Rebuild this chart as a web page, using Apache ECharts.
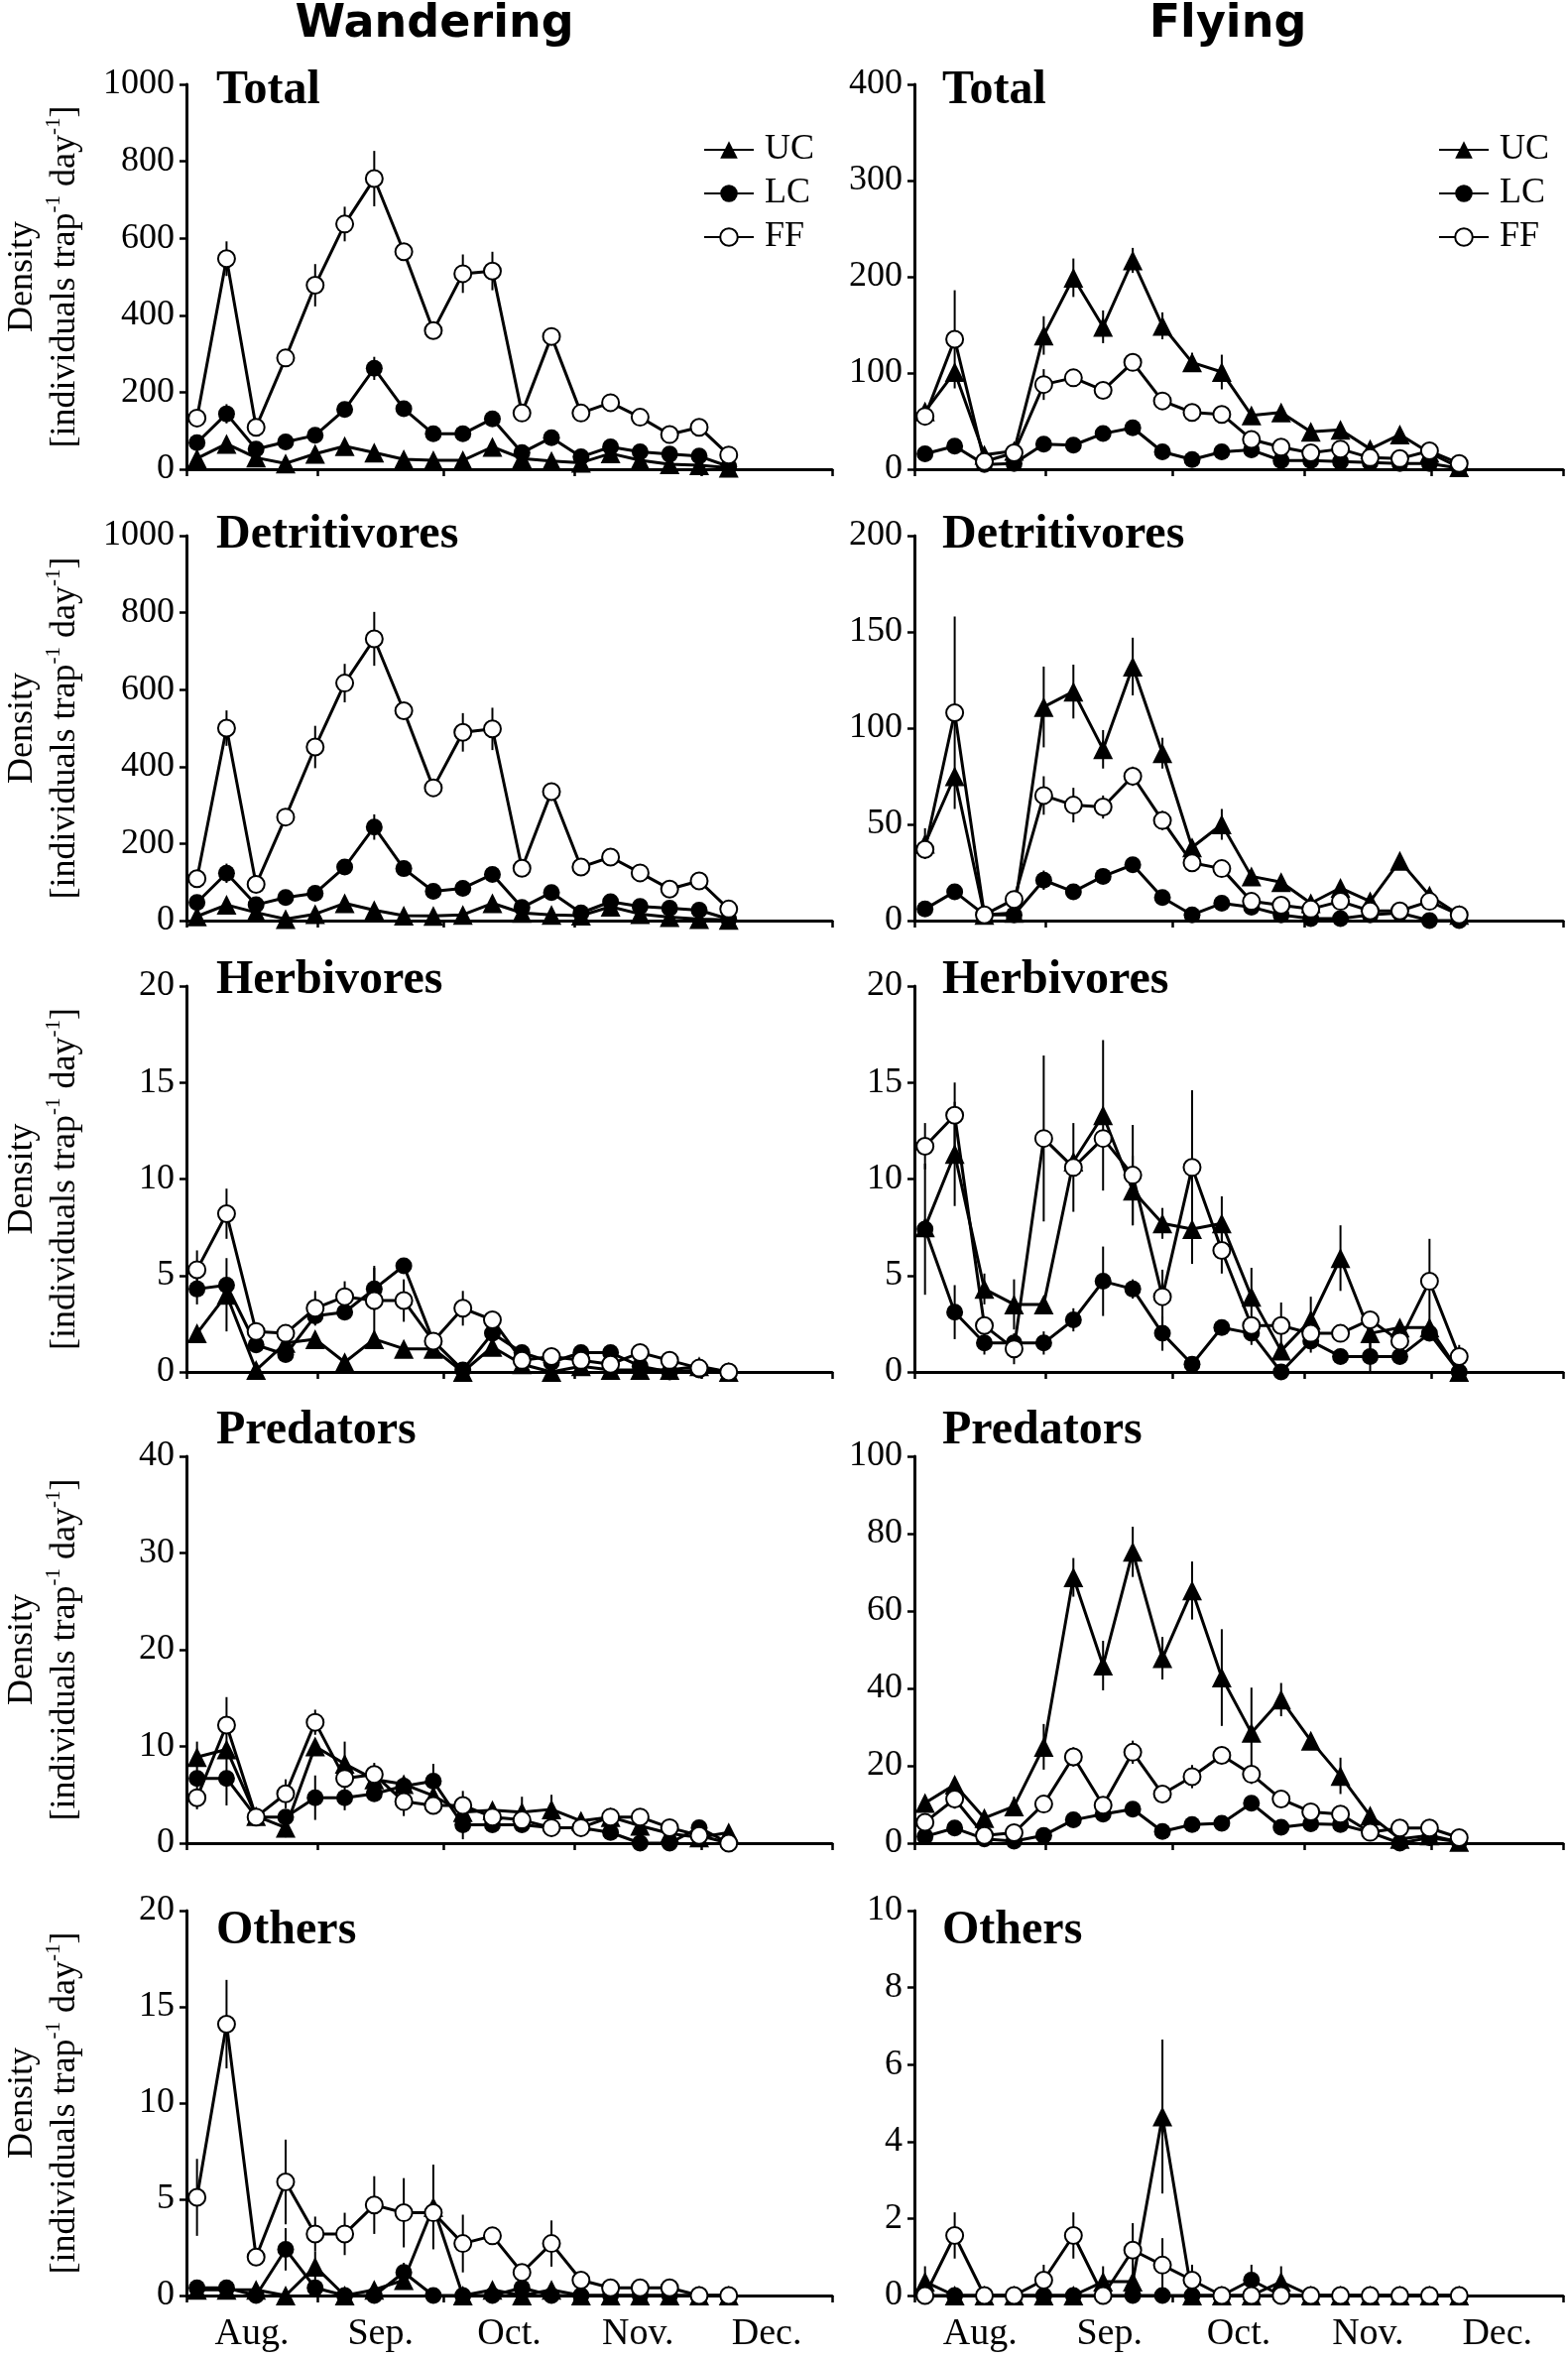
<!DOCTYPE html>
<html>
<head>
<meta charset="utf-8">
<script src="https://cdn.jsdelivr.net/npm/echarts@6.0.0/dist/echarts.min.js"></script>
<style>
html, body { margin: 0; padding: 0; background: #fff; }
#chart { width: 1581px; height: 2378px; }
</style>
</head>
<body>
<div id="chart"></div>
<script>
// sampling dates, in days after 1 August (weekly traps)
var sampleDays = [2.5, 9.5, 16.5, 23.5, 30.5, 37.5, 44.5, 51.5, 58.5, 65.5, 72.5, 79.5, 86.5, 93.5, 100.5, 107.5, 114.5, 121.5, 128.5];
var monthStarts = [0, 31, 61, 92, 122, 153];
var monthMids = [15.5, 46, 76.5, 107, 137.5];
var monthLabels = ['Aug.', 'Sep.', 'Oct.', 'Nov.', 'Dec.'];

var panelNames = ['Total', 'Detritivores', 'Herbivores', 'Predators', 'Others'];
var wanderMax = [1000, 1000, 20, 40, 20];
var wanderStep = [200, 200, 5, 10, 5];
var flyMax = [400, 200, 20, 100, 10];
var flyStep = [100, 50, 5, 20, 2];

// ---- Wandering ----
var wTotalUC = [28, 66, 30, 15, 40, 60, 43, 26, 23, 23, 58, 28, 21, 17, 41, 23, 13, 10, 4];
var wTotalLC = [69, 144, 52, 71, 88, 155, 262, 157, 92, 92, 131, 43, 82, 32, 58, 45, 39, 34, 7];
var wTotalFF = [133, 547, 109, 289, 478, 637, 755, 565, 360, 508, 515, 146, 345, 146, 173, 135, 90, 109, 37];
var wTotalUCse = [0, 15, 0, 0, 0, 0, 0, 0, 0, 0, 10, 0, 0, 0, 8, 0, 0, 0, 0];
var wTotalLCse = [0, 25, 0, 0, 0, 12, 30, 0, 0, 0, 10, 0, 0, 0, 8, 0, 0, 0, 0];
var wTotalFFse = [0, 45, 0, 0, 55, 45, 72, 10, 0, 50, 50, 0, 0, 12, 15, 0, 0, 0, 0];

var wDetUC = [11, 41, 21, 4, 17, 45, 27, 13, 12, 15, 45, 20, 15, 13, 36, 17, 9, 4, 2];
var wDetLC = [47, 123, 41, 60, 71, 139, 243, 135, 76, 84, 120, 34, 73, 20, 49, 37, 32, 27, 4];
var wDetFF = [109, 500, 94, 269, 451, 617, 732, 545, 345, 489, 498, 136, 335, 139, 165, 124, 82, 103, 30];
var wDetUCse = [0, 0, 0, 0, 0, 0, 0, 0, 0, 0, 0, 0, 0, 0, 0, 0, 0, 0, 0];
var wDetLCse = [0, 25, 0, 0, 0, 0, 33, 0, 0, 0, 0, 0, 0, 0, 0, 0, 0, 0, 0];
var wDetFFse = [0, 46, 0, 0, 55, 50, 70, 0, 0, 50, 55, 0, 0, 12, 12, 0, 0, 0, 0];

var wHerbUC = [2.0, 4.0, 0.1, 1.5, 1.7, 0.5, 1.7, 1.2, 1.2, 0, 1.3, 0.4, 0, 0.3, 0.1, 0.1, 0.1, 0.3, 0];
var wHerbLC = [4.3, 4.5, 1.4, 0.9, 2.9, 3.1, 4.3, 5.5, 1.6, 0.1, 2.0, 1.0, 0.5, 1.0, 1.0, 0.3, 0, 0.1, 0];
var wHerbFF = [5.3, 8.2, 2.1, 2.0, 3.3, 3.9, 3.7, 3.7, 1.6, 3.3, 2.7, 0.6, 0.8, 0.6, 0.4, 1.0, 0.6, 0.2, 0];
var wHerbUCse = [0.3, 1.9, 0, 0.2, 0, 0, 0, 0, 0, 0, 0, 0, 0, 0, 0, 0, 0, 0, 0];
var wHerbLCse = [0.8, 0, 0, 0, 0, 0, 1.1, 0.2, 0, 0, 0, 0, 0, 0.3, 0, 0, 0, 0, 0];
var wHerbFFse = [1.0, 1.3, 0, 0, 0.9, 0.8, 1.8, 1.1, 0, 0.9, 0.2, 0, 0, 0, 0, 0, 0, 0, 0];

var wPredUC = [8.9, 9.7, 2.8, 1.6, 10.0, 8.2, 6.6, 6.1, 4.9, 3.2, 3.4, 3.2, 3.5, 2.3, 2.7, 1.8, 1.0, 0.6, 1.1];
var wPredLC = [6.7, 6.7, 2.7, 2.7, 4.7, 4.7, 5.1, 5.9, 6.4, 1.9, 1.9, 1.9, 1.6, 1.6, 1.1, 0, 0, 1.6, 0];
var wPredFF = [4.7, 12.2, 2.7, 5.1, 12.5, 6.7, 7.1, 4.3, 3.9, 3.9, 2.7, 2.4, 1.6, 1.6, 2.7, 2.7, 1.6, 0.8, 0];
var wPredUCse = [1.6, 0, 0, 1.0, 0, 2.3, 0, 0, 0, 0, 0, 1.6, 1.5, 0.8, 0, 0, 0, 0.4, 0];
var wPredLCse = [0, 2.8, 0, 0, 2.3, 1.3, 0, 0, 1.8, 1.5, 0, 0, 0, 0, 0, 0, 0, 0, 0];
var wPredFFse = [1.2, 2.9, 0, 1.5, 1.3, 0, 1.2, 1.5, 0, 1.5, 1.1, 0, 0, 0, 0.5, 0.5, 0.6, 0, 0];

var wOthUC = [0.3, 0.3, 0.3, 0, 1.5, 0, 0.3, 0.8, 4.6, 0, 0.3, 0, 0.3, 0, 0, 0, 0, 0, 0];
var wOthLC = [0.4, 0.4, 0, 2.4, 0.4, 0, 0, 1.2, 0, 0, 0, 0.4, 0, 0, 0, 0, 0, 0, 0];
var wOthFF = [5.1, 14.1, 2.0, 5.9, 3.2, 3.2, 4.7, 4.3, 4.3, 2.7, 3.1, 1.2, 2.7, 0.8, 0.4, 0.4, 0.4, 0, 0];
var wOthUCse = [0.2, 0.2, 0.3, 0, 0.8, 0, 0.2, 0.3, 2.2, 0, 0.2, 0, 0.2, 0, 0, 0, 0, 0, 0];
var wOthLCse = [0, 0, 0, 1.1, 0, 0, 0, 0.5, 0, 0, 0, 0.2, 0, 0, 0, 0, 0, 0, 0];
var wOthFFse = [2.0, 2.3, 0.3, 2.2, 0.9, 1.1, 1.5, 1.8, 0, 1.5, 0.4, 0.3, 1.2, 0.2, 0.1, 0.1, 0.1, 0, 0];

// ---- Flying ----
var fTotalUC = [60, 101, 15, 19, 139, 199, 148, 217, 149, 111, 101, 56, 59, 39, 41, 21, 36, 17, 2];
var fTotalLC = [16, 24, 5, 6, 26, 25, 37, 43, 18, 10, 18, 20, 9, 9, 8, 7, 6, 6, 1];
var fTotalFF = [55, 135, 8, 17, 88, 95, 82, 111, 71, 59, 57, 31, 23, 17, 21, 12, 11, 19, 6];
var fTotalUCse = [5, 0, 0, 0, 20, 20, 17, 13, 14, 10, 18, 8, 0, 0, 0, 0, 0, 0, 0];
var fTotalLCse = [0, 0, 0, 0, 0, 0, 0, 0, 0, 0, 0, 0, 0, 0, 0, 0, 0, 0, 0];
var fTotalFFse = [0, 51, 0, 0, 16, 5, 5, 0, 0, 6, 0, 0, 0, 0, 0, 0, 0, 0, 0];

var fDetUC = [40, 75, 3, 4, 111, 119, 89, 132, 87, 38, 50, 23, 20, 9, 17, 10, 31, 13, 3];
var fDetLC = [6, 15, 3, 3, 21, 15, 23, 29, 12, 3, 9, 7, 3, 1, 1, 3, 4, 0, 0];
var fDetFF = [37, 108, 3, 11, 65, 60, 59, 75, 52, 30, 27, 10, 8, 6, 10, 5, 5, 10, 3];
var fDetUCse = [8, 0, 0, 0, 21, 14, 10, 15, 8, 0, 8, 0, 0, 0, 0, 0, 0, 0, 0];
var fDetLCse = [0, 0, 0, 0, 5, 4, 0, 0, 0, 0, 0, 0, 0, 0, 0, 0, 0, 0, 0];
var fDetFFse = [3, 50, 0, 0, 10, 9, 6, 5, 5, 4, 0, 0, 0, 0, 0, 0, 0, 0, 0];

var fHerbUC = [7.5, 11.3, 4.3, 3.5, 3.5, 10.9, 13.3, 9.4, 7.7, 7.4, 7.7, 3.9, 1.1, 2.7, 5.9, 2.0, 2.3, 2.3, 0];
var fHerbLC = [7.4, 3.1, 1.5, 1.5, 1.5, 2.7, 4.7, 4.3, 2.0, 0.4, 2.3, 2.0, 0, 1.6, 0.8, 0.8, 0.8, 2.0, 0];
var fHerbFF = [11.7, 13.3, 2.4, 1.2, 12.1, 10.6, 12.1, 10.2, 3.9, 10.6, 6.3, 2.4, 2.4, 2.0, 2.0, 2.7, 1.6, 4.7, 0.8];
var fHerbUCse = [0, 2.7, 0.8, 1.3, 0, 0, 3.9, 1.8, 0.8, 1.8, 1.4, 1.5, 0, 1.2, 1.7, 0.8, 0, 0, 0];
var fHerbLCse = [3.4, 1.4, 0.6, 0, 0.6, 0.6, 1.8, 0.5, 0.9, 0, 0.3, 0.6, 0.4, 0.6, 0.4, 0.8, 0.4, 0, 0];
var fHerbFFse = [1.2, 1.7, 0, 0.8, 4.3, 2.3, 0, 2.6, 1.4, 4.0, 1.2, 0, 1.2, 0, 0, 0, 0, 2.2, 0.6];

var fPredUC = [10.4, 15.1, 6.5, 9.5, 24.9, 68.7, 45.9, 75.3, 47.8, 65.3, 42.8, 28.5, 37.1, 26.5, 17.4, 7.1, 1.1, 2.0, 0.3];
var fPredLC = [1.7, 3.9, 1.1, 0.5, 2.0, 6.0, 7.5, 8.8, 3.0, 4.8, 5.1, 10.3, 4.1, 5.0, 4.8, 2.8, 0, 1.4, 0.3];
var fPredFF = [5.4, 11.4, 2.0, 2.7, 10.1, 22.3, 9.8, 23.5, 12.7, 17.2, 22.7, 17.8, 11.4, 8.1, 7.5, 2.8, 3.9, 3.9, 1.4];
var fPredUCse = [0, 1.5, 1.5, 2.5, 5.9, 5, 6.4, 6.5, 5.5, 7.5, 12.5, 11.7, 4.3, 0, 4.7, 0, 0, 0, 0];
var fPredLCse = [0, 0, 0, 0, 0, 0, 0, 0, 0, 1.5, 1.5, 0, 0, 0, 0, 0, 0, 0, 0];
var fPredFFse = [0, 2.5, 0, 0, 2, 2.5, 0, 3, 1.5, 3, 1.5, 2.5, 0, 1.5, 0, 0, 0, 0, 0];

var fOthUC = [0.36, 0, 0, 0, 0, 0, 0.36, 0.36, 4.65, 0, 0, 0, 0.36, 0, 0, 0, 0, 0, 0];
var fOthLC = [0, 0, 0, 0, 0, 0, 0, 0, 0, 0, 0, 0.4, 0, 0, 0, 0, 0, 0, 0];
var fOthFF = [0, 1.56, 0, 0, 0.4, 1.56, 0, 1.18, 0.79, 0.4, 0, 0, 0, 0, 0, 0, 0, 0, 0];
var fOthUCse = [0.4, 0, 0, 0, 0, 0, 0.4, 0, 2.0, 0, 0, 0, 0.4, 0, 0, 0, 0, 0, 0];
var fOthLCse = [0, 0, 0, 0, 0, 0, 0, 0, 0, 0, 0, 0.4, 0, 0, 0, 0, 0, 0, 0];
var fOthFFse = [0, 0.6, 0, 0, 0.4, 0.6, 0, 0.7, 0.7, 0.4, 0, 0, 0, 0, 0, 0, 0, 0, 0];

var wandering = [
    [wTotalUC, wTotalLC, wTotalFF, wTotalUCse, wTotalLCse, wTotalFFse],
    [wDetUC, wDetLC, wDetFF, wDetUCse, wDetLCse, wDetFFse],
    [wHerbUC, wHerbLC, wHerbFF, wHerbUCse, wHerbLCse, wHerbFFse],
    [wPredUC, wPredLC, wPredFF, wPredUCse, wPredLCse, wPredFFse],
    [wOthUC, wOthLC, wOthFF, wOthUCse, wOthLCse, wOthFFse]
];
var flying = [
    [fTotalUC, fTotalLC, fTotalFF, fTotalUCse, fTotalLCse, fTotalFFse],
    [fDetUC, fDetLC, fDetFF, fDetUCse, fDetLCse, fDetFFse],
    [fHerbUC, fHerbLC, fHerbFF, fHerbUCse, fHerbLCse, fHerbFFse],
    [fPredUC, fPredLC, fPredFF, fPredUCse, fPredLCse, fPredFFse],
    [fOthUC, fOthLC, fOthFF, fOthUCse, fOthLCse, fOthFFse]
];

// layout
var rowTop = [85, 540, 994, 1468, 1926];
var rowBottom = [473, 928, 1383, 1858, 2314];
var colLeft = [185, 922];
var plotWidth = 654;
var titleY = [92, 540, 989, 1443, 1947];
var titleX = [218, 950];

var serif = '"Liberation Serif", "Times New Roman", serif';

var grids = [], xAxes = [], yAxes = [], series = [], graphics = [];

function lineSeries(name, values, gi, kind) {
    return {
        type: 'line',
        name: name,
        xAxisIndex: gi,
        yAxisIndex: gi,
        data: sampleDays.map(function (d, i) { return [d, values[i]]; }),
        showAllSymbol: true,
        symbol: kind === 'tri' ? 'triangle' : 'circle',
        symbolSize: kind === 'tri' ? 20 : 17,
        lineStyle: { color: '#000', width: 3 },
        itemStyle: kind === 'open'
            ? { color: '#fff', borderColor: '#000', borderWidth: 2 }
            : { color: '#000' },
        emphasis: { disabled: true },
        z: 3,
        animation: false
    };
}

function errSeries(values, se, gi) {
    var pts = [];
    for (var i = 0; i < values.length; i++) {
        if (se[i] > 0) pts.push([sampleDays[i], values[i], se[i]]);
    }
    return {
        type: 'custom',
        xAxisIndex: gi,
        yAxisIndex: gi,
        data: pts,
        encode: { x: 0, y: 1 },
        silent: true,
        z: 1,
        animation: false,
        renderItem: function (params, api) {
            var x = api.value(0), m = api.value(1), s = api.value(2);
            var top = api.coord([x, m + s]);
            var bot = api.coord([x, Math.max(0, m - s)]);
            return {
                type: 'line',
                shape: { x1: top[0], y1: top[1], x2: bot[0], y2: bot[1] },
                style: { stroke: '#000', lineWidth: 2 }
            };
        }
    };
}

for (var col = 0; col < 2; col++) {
    var sets = col === 0 ? wandering : flying;
    for (var row = 0; row < 5; row++) {
        var gi = grids.length;
        var bottomRow = row === 4;
        grids.push({
            left: colLeft[col],
            top: rowTop[row],
            width: plotWidth,
            height: rowBottom[row] - rowTop[row]
        });
        xAxes.push({
            gridIndex: gi,
            type: 'value',
            min: 0,
            max: 153,
            axisLine: { lineStyle: { color: '#000', width: 3 } },
            axisTick: { show: true, customValues: monthStarts, length: 7, lineStyle: { color: '#000', width: 2.5 } },
            axisLabel: {
                show: bottomRow,
                customValues: monthMids,
                formatter: function (v) { return monthLabels[monthMids.indexOf(v)] || ''; },
                color: '#000',
                fontFamily: serif,
                fontSize: 38,
                margin: 20
            },
            splitLine: { show: false }
        });
        var y = {
            gridIndex: gi,
            type: 'value',
            min: 0,
            max: col === 0 ? wanderMax[row] : flyMax[row],
            interval: col === 0 ? wanderStep[row] : flyStep[row],
            axisLine: { show: true, lineStyle: { color: '#000', width: 3 } },
            axisTick: { show: true, length: 7, lineStyle: { color: '#000', width: 2.5 } },
            axisLabel: {
                color: '#000', fontFamily: serif, fontSize: 36, margin: 12,
                formatter: function (v) { return String(v); }
            },
            splitLine: { show: false }
        };
        if (col === 0) {
            y.name = 'Density\n[individuals trap{sup|-1} day{sup|-1}]';
            y.nameLocation = 'middle';
            y.nameRotate = 90;
            y.nameGap = 101;
            y.nameTextStyle = {
                color: '#000',
                fontFamily: serif,
                fontSize: 36,
                lineHeight: 43,
                rich: {
                    sup: { fontFamily: serif, fontSize: 21, color: '#000', verticalAlign: 'top', lineHeight: 30 }
                }
            };
        }
        yAxes.push(y);

        var d = sets[row];
        series.push(errSeries(d[0], d[3], gi));
        series.push(errSeries(d[1], d[4], gi));
        series.push(errSeries(d[2], d[5], gi));
        series.push(lineSeries('UC', d[0], gi, 'tri'));
        series.push(lineSeries('LC', d[1], gi, 'dot'));
        series.push(lineSeries('FF', d[2], gi, 'open'));

        graphics.push({
            type: 'text',
            x: titleX[col],
            y: titleY[row],
            style: {
                text: panelNames[row],
                font: 'bold 48px ' + serif,
                fill: '#000',
                verticalAlign: 'middle'
            }
        });
    }
}

graphics.push({
    type: 'text', x: 438, y: 25,
    style: { text: 'Wandering', font: 'bold 46px "DejaVu Sans", sans-serif', fill: '#000', align: 'center', verticalAlign: 'middle' }
});
graphics.push({
    type: 'text', x: 1238, y: 25,
    style: { text: 'Flying', font: 'bold 46px "DejaVu Sans", sans-serif', fill: '#000', align: 'center', verticalAlign: 'middle' }
});

function legendAt(left) {
    return {
        data: ['UC', 'LC', 'FF'],
        orient: 'vertical',
        left: left,
        top: 128,
        itemWidth: 50,
        itemHeight: 22,
        itemGap: 8,
        selectedMode: false,
        textStyle: { color: '#000', fontFamily: serif, fontSize: 36, lineHeight: 22, padding: [0, 0, 0, 6] }
    };
}

var chart = echarts.init(document.getElementById('chart'));
chart.setOption({
    backgroundColor: '#fff',
    animation: false,
    grid: grids,
    xAxis: xAxes,
    yAxis: yAxes,
    legend: [legendAt(704), legendAt(1445)],
    series: series,
    graphic: graphics
});
</script>
</body>
</html>
